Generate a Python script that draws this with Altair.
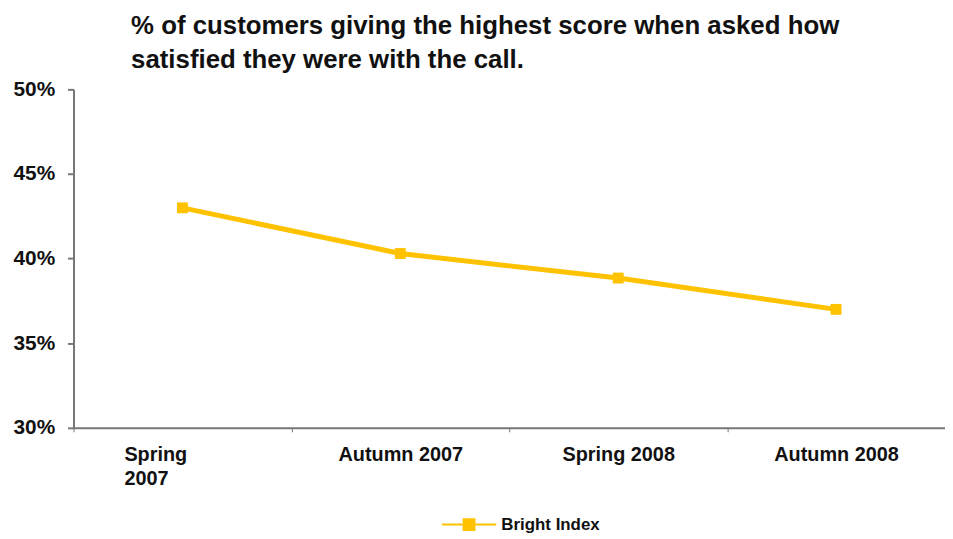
import altair as alt
import pandas as pd

seasons = ["Spring 2007", "Autumn 2007", "Spring 2008", "Autumn 2008"]
values = [0.430, 0.403, 0.3885, 0.370]
series = ["Bright Index"] * 4
y_ticks = [0.30, 0.35, 0.40, 0.45, 0.50]

df = pd.DataFrame({"season": seasons, "value": values, "series": series})

FONT = "Liberation Sans"
YELLOW = "#FFC200"
AXIS_GREY = "#777777"

x_enc = alt.X(
    "season:N",
    sort=seasons,
    bandPosition=0.5,
    scale=alt.Scale(type="band", paddingInner=0, paddingOuter=0),
    axis=alt.Axis(
        title=None,
        labelAngle=0,
        labelExpr="datum.value == 'Spring 2007' ? ['Spring', '2007'] : datum.value",
        labelAlign={"condition": {"test": "datum.value == 'Spring 2007'", "value": "left"}, "value": "center"},
        labelOffset={"condition": {"test": "datum.value == 'Spring 2007'", "value": -59}, "value": 0},
        labelFont=FONT,
        labelFontSize=20,
        labelFontWeight="bold",
        labelColor="#111111",
        labelPadding=13,
        labelLineHeight=24,
        labelBaseline="top",
        tickBand="extent",
        tickSize=4,
        tickColor=AXIS_GREY,
        domainColor=AXIS_GREY,
        domainWidth=2,
        grid=False,
    ),
)

y_enc = alt.Y(
    "value:Q",
    scale=alt.Scale(domain=[0.30, 0.50], nice=False, zero=False),
    axis=alt.Axis(
        title=None,
        values=y_ticks,
        format=".0%",
        labelFont=FONT,
        labelFontSize=21,
        labelFontWeight="bold",
        labelColor="#111111",
        labelPadding=13,
        tickSize=6,
        tickColor=AXIS_GREY,
        tickWidth=2,
        domainColor=AXIS_GREY,
        domainWidth=2,
        grid=False,
    ),
)

color_enc = alt.Color(
    "series:N",
    scale=alt.Scale(range=[YELLOW]),
    legend=alt.Legend(
        title=None,
        orient="none",
        legendX=370,
        legendY=410,
        symbolType="M-1,0H1M-0.2,-0.2H0.2V0.2H-0.2Z",
        symbolSize=3000,
        symbolStrokeWidth=2,
        symbolStrokeColor=YELLOW,
        symbolFillColor=YELLOW,
        labelFont=FONT,
        labelFontSize=17,
        labelFontWeight="bold",
        labelColor="#111111",
    ),
)

chart = (
    alt.Chart(df)
    .mark_line(
        strokeWidth=5,
        point=alt.OverlayMarkDef(shape="square", size=120, filled=True, color=YELLOW, opacity=1),
    )
    .encode(x=x_enc, y=y_enc, color=color_enc)
    .properties(
        width=878,
        height=341,
        autosize="none",
        padding={"left": 66, "top": 80, "right": 0, "bottom": 108},
        title=alt.TitleParams(
            text=["% of customers giving the highest score when asked how",
                  "satisfied they were with the call."],
            anchor="start",
            frame="group",
            dx=58,
            offset=6,
            font=FONT,
            fontSize=26,
            fontWeight="bold",
            color="#111111",
            lineHeight=34,
        ),
    )
    .configure_view(stroke=None)
)

chart.save("out.html", embed_options={"renderer": "svg", "actions": False})
